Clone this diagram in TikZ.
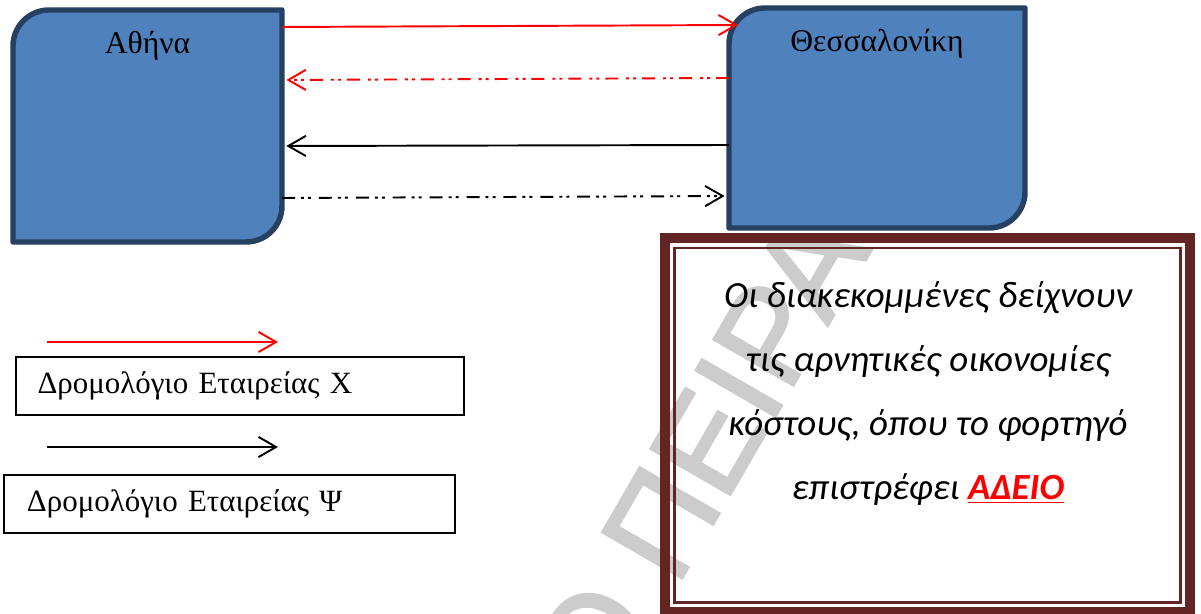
\documentclass[tikz,border=0pt]{standalone}
\usepackage{fontspec}
\setmainfont{Liberation Serif}
\newfontfamily\notefont{Carlito}
\newfontfamily\stampfont[FakeBold=2]{Liberation Sans}
\usetikzlibrary{arrows.meta,calc}

\definecolor{cityfill}{HTML}{4F81BD}
\definecolor{cityline}{HTML}{254061}
\definecolor{framered}{HTML}{632523}

\tikzset{
  citybox/.style={minimum width=#1, inner sep=0pt, outer sep=0pt},
  cityshape/.style={draw=cityline, fill=cityfill, line width=3.1pt, line join=round},
  cityname/.style={anchor=base, font=\fontsize{18}{22}\selectfont},
  route/.style={line width=1.1pt, -{Straight Barb[length=10pt,width=11.5pt]}},
  emptyrun/.style={dash pattern=on 7.4pt off 3.4pt on 1.7pt off 2.3pt on 1.7pt off 4.5pt},
  keybox/.style={draw, line width=0.95pt, minimum height=1.16cm, text width=8.1cm,
    align=left, font=\fontsize{17.6}{20}\selectfont},
  notebox/.style={draw=framered, line width=5.7pt, minimum width=10.5cm,
    minimum height=7.48cm, inner sep=0pt, outer sep=0pt},
  notetext/.style={align=center, font=\notefont\itshape\fontsize{21}{36.3}\selectfont}
}

\begin{document}
\begin{tikzpicture}
  \useasboundingbox (0,0) rectangle (24.02,-12.28);

  % stamp in the background
  \node[rotate=60, anchor=base west, text=gray!40,
    font=\stampfont\fontsize{76}{84}\selectfont] (stamp) at (12.06,-14.3) {Ο ΠΕΙΡΑ};

  % the two cities
  \node[citybox=5.38cm, minimum height=4.64cm] (athens) at (2.95,-2.52) {};
  \node[citybox=5.92cm, minimum height=4.40cm] (thess) at (17.54,-2.36) {};
  \foreach \c in {athens,thess}
    \draw[cityshape] (\c.south west) -- ([yshift=-0.72cm]\c.north west)
      arc[start angle=180, end angle=90, radius=0.72cm] -- (\c.north east)
      -- ([yshift=0.72cm]\c.south east)
      arc[start angle=0, end angle=-90, radius=0.72cm] -- cycle;
  \node[cityname] (athensname) at ([yshift=-0.87cm]athens.north) {Αθήνα};
  \node[cityname] (thessname) at ([yshift=-0.87cm]thess.north) {Θεσσαλονίκη};

  % routes between them
  \draw[route, red] (athens.east |- 0,-0.54) -- ($(thess.west |- 0,-0.5)+(0.18,0)$);
  \draw[route, red, emptyrun, shorten >=2.5pt] (thess.west |- 0,-1.56) -- (athens.east |- 0,-1.6);
  \draw[route, shorten >=2.5pt] (thess.west |- 0,-2.9) -- (athens.east |- 0,-2.92);
  \draw[route, emptyrun, shorten >=2.5pt] (athens.east |- 0,-3.96) -- (thess.west |- 0,-3.92);

  % key
  \coordinate (xfrom) at (0.94,-6.84);
  \coordinate (xto) at (5.56,-6.84);
  \draw[route, red] (xfrom) -- (xto);
  \node[keybox, inner xsep=0.43cm] (keyx) at (4.8,-7.72) {Δρομολόγιο Εταιρείας Χ};
  \coordinate (yfrom) at (0.94,-8.94);
  \coordinate (yto) at (5.56,-8.94);
  \draw[route] (yfrom) -- (yto);
  \node[keybox, inner xsep=0.46cm] (keyy) at (4.59,-10.08) {Δρομολόγιο Εταιρείας Ψ};

  % note in the double frame
  \node[notebox] (note) at (18.55,-8.5) {};
  \draw[framered, line width=1.3pt] ([shift={(0.19,-0.2)}]note.north west)
    rectangle ([shift={(-0.19,0.19)}]note.south east);
  \node[notetext] (notetext) at (18.56,-7.87) {Οι διακεκομμένες δείχνουν\\
    τις αρνητικές οικονομίες\\
    κόστους, όπου το φορτηγό\\
    επιστρέφει \textcolor{red}{\bfseries\underline{ΑΔΕΙΟ}}};
\end{tikzpicture}
\end{document}
